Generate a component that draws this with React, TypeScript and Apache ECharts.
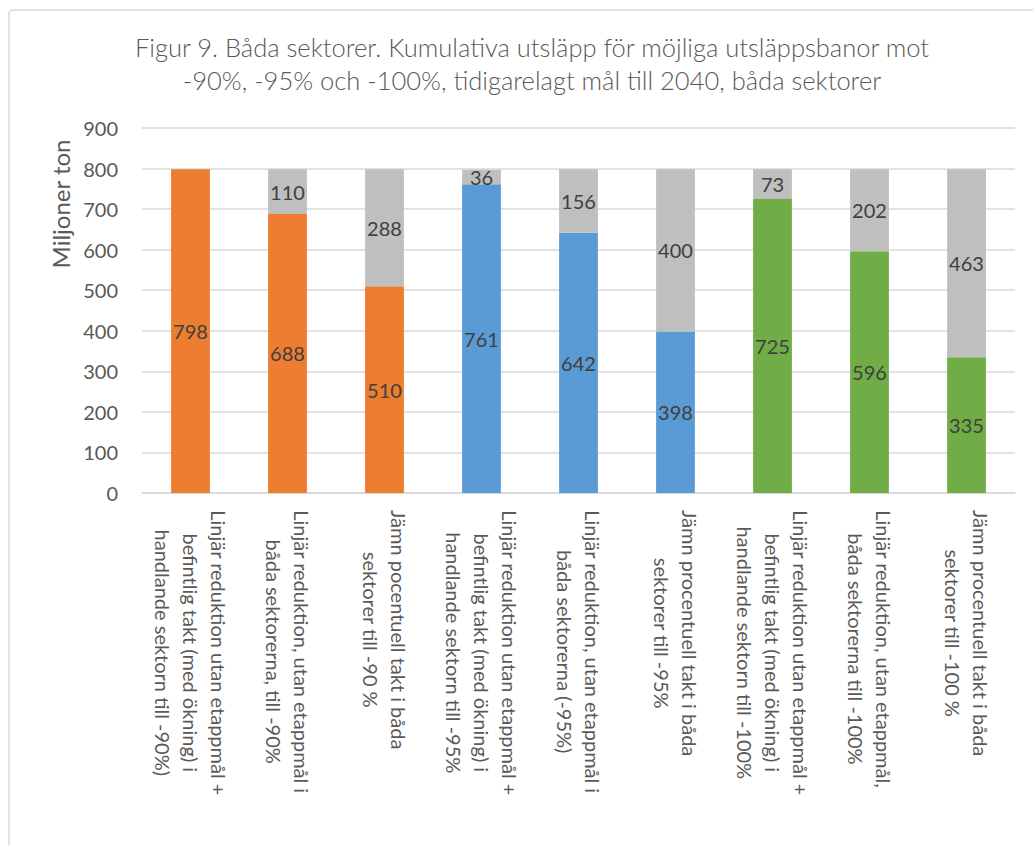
import React, { useEffect, useRef } from "react";
import * as echarts from "echarts";

const titleLines = [
  "Figur 9. Båda sektorer. Kumulativa utsläpp för möjliga utsläppsbanor mot",
  "-90%, -95% och -100%, tidigarelagt mål till 2040, båda sektorer",
];
const yAxisTitle = "Miljoner ton";

const categories = [
  "Linjär reduktion utan etappmål +\nbefintlig takt (med ökning) i\nhandlande sektorn till -90%)",
  "Linjär reduktion, utan etappmål i\nbåda sektorerna, till -90%",
  "Jämn pocentuell takt i båda\nsektorer till -90 %",
  "Linjär reduktion utan etappmål +\nbefintlig takt (med ökning) i\nhandlande sektorn till -95%",
  "Linjär reduktion, utan etappmål i\nbåda sektorerna (-95%)",
  "Jämn procentuell takt i båda\nsektorer till -95%",
  "Linjär reduktion utan etappmål +\nbefintlig takt (med ökning) i\nhandlande sektorn till -100%",
  "Linjär reduktion, utan etappmål,\nbåda sektorerna till -100%",
  "Jämn procentuell takt i båda\nsektorer till -100 %",
];

const emissions = [798, 688, 510, 761, 642, 398, 725, 596, 335];
const remaining = [null, 110, 288, 36, 156, 400, 73, 202, 463];

const barColors = [
  "#ED7D31", "#ED7D31", "#ED7D31",
  "#5B9BD5", "#5B9BD5", "#5B9BD5",
  "#70AD47", "#70AD47", "#70AD47",
];
const greyColor = "#BFBFBF";

const FONT = "Lato, 'Open Sans', sans-serif";
const X_LABEL_SIZE = 20;

function measure(text: string, size: number): number {
  const c = document.createElement("canvas");
  const ctx = c.getContext("2d");
  if (!ctx) return text.length * size * 0.5;
  ctx.font = `${size}px Lato`;
  return ctx.measureText(text).width;
}

export default function App() {
  const ref = useRef<HTMLDivElement>(null);
  useEffect(() => {
    if (!ref.current) return;
    const chart = echarts.init(ref.current, undefined, { renderer: "svg" });

    const rich: Record<string, any> = {};
    categories.forEach((c, i) => {
      const w = Math.max(...c.split("\n").map((l) => measure(l, X_LABEL_SIZE))) + 2;
      rich["c" + i] = {
        fontSize: X_LABEL_SIZE,
        fontFamily: FONT,
        color: "#595959",
        lineHeight: 28,
        width: w,
        align: "center",
      };
    });

    chart.setOption({
      animation: false,
      backgroundColor: "#ffffff",
      title: {
        text: titleLines.join("\n"),
        left: 527,
        top: 25,
        textAlign: "center",
        textStyle: {
          fontFamily: FONT,
          fontSize: 25.5,
          fontWeight: 300,
          color: "#595959",
          lineHeight: 33,
        },
      },
      graphic: [
        {
          type: "rect",
          shape: { x: 9, y: 10, width: 1100, height: 1000, r: 4 },
          style: { fill: "none", stroke: "#d9d9d9", lineWidth: 1.5 },
          silent: true,
        },
        {
          type: "text",
          x: 60,
          y: 204,
          rotation: Math.PI / 2,
          style: {
            text: yAxisTitle,
            fontFamily: FONT,
            fontSize: 24,
            fill: "#595959",
            align: "center",
            verticalAlign: "middle",
          },
        },
      ],
      grid: { left: 142, right: 18, top: 128, bottom: 352 },
      xAxis: {
        type: "category",
        data: categories,
        axisTick: { show: false },
        axisLine: { lineStyle: { color: "#d9d9d9", width: 1.5 } },
        axisLabel: {
          interval: 0,
          rotate: -90,
          margin: 16,
          formatter: (value: string, index: number) =>
            value
              .split("\n")
              .map((l) => `{c${index}|${l}}`)
              .join("\n"),
          rich,
        },
      },
      yAxis: {
        type: "value",
        min: 0,
        max: 900,
        interval: 100,
        axisLine: { show: false },
        axisTick: { show: false },
        splitLine: { lineStyle: { color: "#d9d9d9", width: 1.5 } },
        axisLabel: {
          margin: 24,
          fontFamily: FONT,
          fontSize: 20,
          color: "#595959",
        },
      },
      series: [
        {
          type: "bar",
          stack: "total",
          barWidth: "40%",
          data: emissions.map((v, i) => ({ value: v, itemStyle: { color: barColors[i] } })),
          label: {
            show: true,
            position: "inside",
            fontFamily: FONT,
            fontSize: 20,
            color: "#404040",
          },
        },
        {
          type: "bar",
          stack: "total",
          barWidth: "40%",
          data: remaining,
          itemStyle: { color: greyColor },
          label: {
            show: true,
            position: "inside",
            fontFamily: FONT,
            fontSize: 20,
            color: "#404040",
          },
        },
      ],
    });
    return () => chart.dispose();
  }, []);
  return (
    <div
      ref={ref}
      style={{ position: "fixed", left: 0, top: 0, width: 1033, height: 845 }}
    />
  );
}
